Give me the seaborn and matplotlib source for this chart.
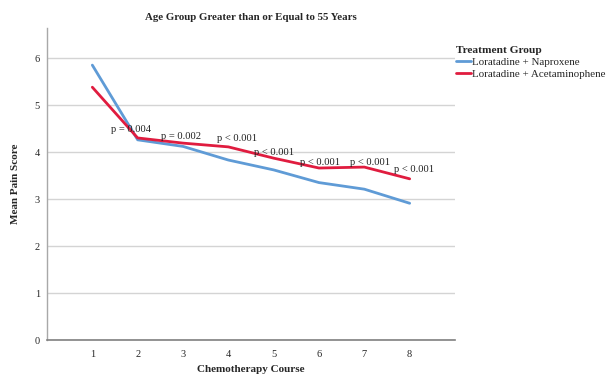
import matplotlib
matplotlib.use("Agg")
import matplotlib.pyplot as plt
import seaborn as sns
import pandas as pd

courses = [1, 2, 3, 4, 5, 6, 7, 8]
naproxene = [5.85, 4.26, 4.12, 3.83, 3.62, 3.35, 3.21, 2.91]
acetaminophen = [5.38, 4.30, 4.19, 4.11, 3.87, 3.66, 3.68, 3.43]
group_names = ["Loratadine + Naproxene", "Loratadine + Acetaminophene"]
p_labels = ["p = 0.004", "p = 0.002", "p < 0.001", "p < 0.001",
            "p < 0.001", "p < 0.001", "p < 0.001"]
p_label_x = [1.86, 2.95, 4.2, 5.0, 6.02, 7.12, 8.1]
p_label_y = [4.47, 4.34, 4.28, 4.0, 3.77, 3.77, 3.62]

df = pd.DataFrame({
    "Chemotherapy Course": courses * 2,
    "Mean Pain Score": naproxene + acetaminophen,
    "Treatment Group": [group_names[0]] * len(courses) + [group_names[1]] * len(courses),
})

sns.set_style("white")
plt.rcParams["font.family"] = ["Liberation Serif", "DejaVu Serif"]

fig = plt.figure(figsize=(6.13, 3.77), dpi=100)
ax = fig.add_axes([47 / 613, 1 - 340 / 377, 408 / 613, 312 / 377])

palette = {group_names[0]: "#5f9bd6", group_names[1]: "#e01c3f"}
sns.lineplot(data=df, x="Chemotherapy Course", y="Mean Pain Score",
             hue="Treatment Group", palette=palette, linewidth=2.0,
             ax=ax, legend=False)

ax.set_xlim(0, 9)
ax.set_ylim(0, 6.64)
ax.set_xticks(courses)
ax.set_yticks(range(0, 7))
ax.tick_params(axis="x", length=0, labelsize=7.5, pad=7)
ax.tick_params(axis="y", length=0, labelsize=7.5, pad=5)
ax.yaxis.grid(True, color="#d4d4d4", linewidth=1.0)
ax.set_axisbelow(True)
for side in ["top", "right"]:
    ax.spines[side].set_visible(False)
ax.spines["left"].set_color("#a8a8a8")
ax.spines["bottom"].set_color("#808080")
ax.spines["left"].set_linewidth(1.0)
ax.spines["bottom"].set_linewidth(1.2)

ax.set_xlabel("Chemotherapy Course", fontsize=8, fontweight="bold")
ax.set_ylabel("Mean Pain Score", fontsize=8, fontweight="bold")
ax.xaxis.set_label_coords(0.5, (340 - 365) / 312)
ax.yaxis.set_label_coords((20 - 47) / 408, 0.5)
ax.set_title("Age Group Greater than or Equal to 55 Years", fontsize=7.8,
             fontweight="bold", pad=6)

for txt, x, y in zip(p_labels, p_label_x, p_label_y):
    ax.text(x, y, txt, fontsize=7.6, ha="center", va="center", color="#222222")

handles = [plt.Line2D([], [], color=palette[g], linewidth=2.0) for g in group_names]
leg = fig.legend(handles, group_names, title="Treatment Group",
                 loc="upper left", bbox_to_anchor=(448 / 613, 1 - 38 / 377),
                 frameon=False, fontsize=7.9, title_fontsize=8.2,
                 handlelength=1.4, handletextpad=0.1, labelspacing=0.22,
                 borderpad=0.2)
leg.get_title().set_fontweight("bold")
leg._legend_box.align = "left"

fig.savefig("out.png", dpi=100)
